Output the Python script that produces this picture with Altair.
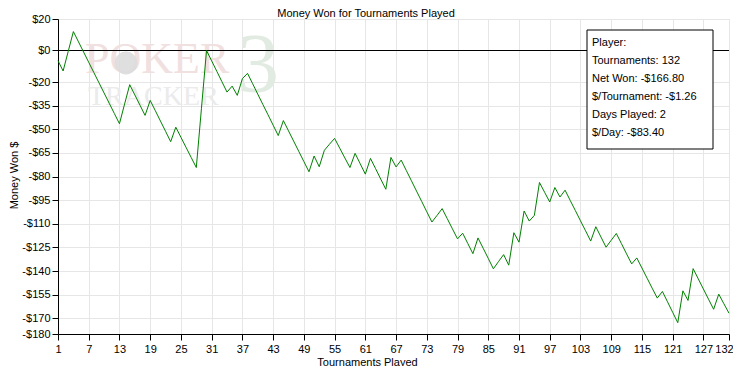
import altair as alt
import pandas as pd

tournaments = list(range(1, 133))
money_won = [
    -6.5, -13.0, -0.5, 12.0, 5.5, -1.0, -7.5, -14.0, -20.5, -27.0,
    -33.5, -40.0, -46.5, -34.0, -21.7, -28.2, -34.7, -41.2, -31.7, -38.2,
    -44.8, -51.3, -57.9, -48.7, -55.1, -61.5, -67.9, -74.3, -37.0, 0.0,
    -6.6, -13.2, -19.8, -26.4, -22.6, -28.5, -17.9, -14.5, -21.1, -27.7,
    -34.3, -40.8, -47.4, -54.0, -44.5, -51.0, -57.5, -64.0, -70.5, -77.0,
    -67.0, -73.8, -63.4, -59.5, -55.8, -62.0, -68.2, -74.3, -65.3, -71.9,
    -78.5, -68.5, -75.0, -81.6, -88.1, -67.9, -73.9, -69.6, -76.2, -82.7,
    -89.3, -95.8, -102.4, -108.9, -104.7, -100.4, -106.8, -113.2, -119.6, -116.0,
    -122.5, -129.0, -119.0, -125.5, -132.0, -138.6, -134.0, -129.6, -136.3, -115.7,
    -121.7, -101.9, -108.3, -104.7, -83.8, -90.0, -96.2, -87.0, -93.0, -88.7,
    -95.2, -101.6, -108.1, -114.5, -121.0, -111.9, -118.4, -124.9, -120.5, -116.2,
    -122.6, -129.1, -135.5, -131.7, -138.1, -144.5, -150.9, -157.2, -153.0, -159.6,
    -166.2, -172.8, -152.6, -158.7, -138.5, -145.0, -151.4, -157.9, -164.3, -154.7,
    -160.8, -166.8,
]
x_ticks = [1, 7, 13, 19, 25, 31, 37, 43, 49, 55, 61, 67, 73, 79, 85, 91, 97,
           103, 109, 115, 121, 127, 132]
y_ticks = [20, 0, -20, -35, -50, -65, -80, -95, -110, -125, -140, -155, -170, -180]
legend_lines = ["Player:", "Tournaments: 132", "Net Won: -$166.80",
                "$/Tournament: -$1.26", "Days Played: 2", "$/Day: -$83.40"]
chart_title = "Money Won for Tournaments Played"
x_title = "Tournaments Played"
y_title = "Money Won $"

FONT = "Liberation Sans"
df = pd.DataFrame({"t": tournaments, "won": money_won})
zero_df = pd.DataFrame({"won": [0]})
one = alt.Data(values=[{"v": 0}])

xs = alt.Scale(domain=[1, 132], nice=False, zero=False)
ys = alt.Scale(domain=[-180, 20], nice=False, zero=False)

x_enc = alt.X("t:Q", scale=xs, title=x_title,
              axis=alt.Axis(values=x_ticks, grid=True, gridColor="#e6e6e6", tickSize=6,
                            tickColor="black", domainColor="black", labelColor="black",
                            labelFont=FONT, labelFontSize=11, labelPadding=3,
                            labelFlush=False, labelOverlap=False,
                            labelOffset=alt.condition("datum.value == 132",
                                                      alt.value(-5), alt.value(0)),
                            titleFont=FONT, titleFontSize=11, titleFontWeight="normal",
                            titleX=309, titleY=31, titleBaseline="alphabetic",
                            titleAlign="center", titleColor="black"))
y_enc = alt.Y("won:Q", scale=ys, title=y_title,
              axis=alt.Axis(values=y_ticks, grid=True, gridColor="#e6e6e6", tickSize=6,
                            tickColor="black", domainColor="black", labelColor="black",
                            labelFont=FONT, labelFontSize=11, labelPadding=2,
                            labelFlush=False, labelOverlap=False,
                            labelExpr="datum.value < 0 ? '-$' + abs(datum.value) : '$' + datum.value",
                            titleFont=FONT, titleFontSize=11, titleFontWeight="normal",
                            titleX=-44, titleY=156, titleAngle=270, titleBaseline="middle",
                            titleAlign="center", titleColor="black"))

line = alt.Chart(df).mark_line(color="#008000", strokeWidth=1, interpolate="linear").encode(
    x=x_enc, y=y_enc,
)

zero_rule = alt.Chart(zero_df).mark_rule(color="black", strokeWidth=1).encode(y=y_enc)

wm_poker = alt.Chart(one).mark_text(
    text="POKER", font="Liberation Serif", fontSize=44, color="#f1e0e0",
    align="left", baseline="alphabetic").encode(x=alt.value(27), y=alt.value(54))
wm_chip = alt.Chart(one).mark_point(
    shape="circle", filled=True, size=520, color="#dcdcdc", opacity=0.9).encode(
    x=alt.value(68), y=alt.value(44))
wm_tracker = alt.Chart(one).mark_text(
    text="TRACKER", font="Liberation Serif", fontSize=28, color="#ebebeb",
    align="left", baseline="alphabetic").encode(x=alt.value(30), y=alt.value(86))
wm_three = alt.Chart(one).mark_text(
    text="3", font="Liberation Serif", fontSize=84, color="#e2ebe2",
    align="center", baseline="middle").encode(x=alt.value(200), y=alt.value(48))

legend_box = alt.Chart(one).mark_rect(fill="white", stroke="black", strokeWidth=1).encode(
    x=alt.value(529), x2=alt.value(655), y=alt.value(11), y2=alt.value(130))
legend_text = alt.Chart(one).mark_text(
    text=legend_lines, font=FONT, fontSize=11, lineHeight=18, color="black",
    align="left", baseline="top").encode(x=alt.value(534), y=alt.value(18))

title_text = alt.Chart(one).mark_text(
    text=chart_title, font=FONT, fontSize=11, color="black",
    align="center", baseline="alphabetic").encode(x=alt.value(308), y=alt.value(-2))

chart = alt.layer(
    wm_poker, wm_chip, wm_tracker, wm_three, zero_rule, line, legend_box, legend_text, title_text
).properties(
    width=671, height=315,
    autosize=alt.AutoSizeParams(type="none"),
    padding={"left": 50, "top": 11, "right": 4, "bottom": 32},
).configure_view(stroke="black", strokeWidth=1).configure(background="white")

chart.save("out.html", embed_options={"renderer": "svg", "actions": False})
